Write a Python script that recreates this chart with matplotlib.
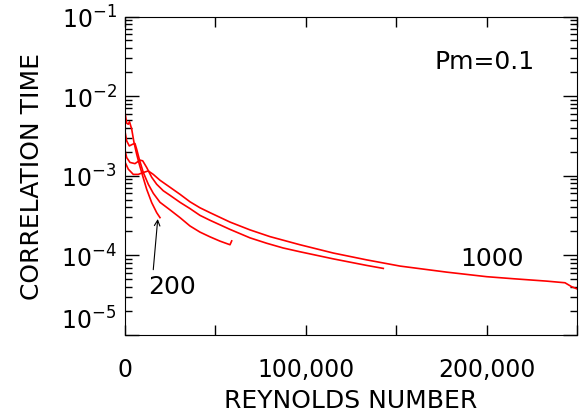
import matplotlib.pyplot as plt
from matplotlib.ticker import LogLocator, NullFormatter

# curve data (Reynolds number, correlation time)
re_200 = [110, 940, 1830, 2490, 3710, 4980, 6470, 7910, 9790, 12000, 14770, 17530, 19360]
tc_200 = [6.06e-3, 4.57e-3, 4.44e-3, 4.78e-3, 3.85e-3, 2.62e-3, 1.86e-3, 1.40e-3, 9.94e-4,
          6.76e-4, 4.60e-4, 3.44e-4, 2.98e-4]

re_400 = [110, 940, 2380, 4260, 5530, 6470, 7910, 10120, 12890, 15650, 19360, 24890, 30420,
          35950, 41480, 47010, 52540, 58080, 59020]
tc_400 = [3.49e-3, 2.74e-3, 2.37e-3, 2.49e-3, 2.54e-3, 2.15e-3, 1.61e-3, 1.10e-3, 7.82e-4,
          6.02e-4, 4.64e-4, 3.73e-4, 2.98e-4, 2.34e-4, 1.96e-4, 1.71e-4, 1.51e-4, 1.36e-4, 1.52e-4]

re_600 = [110, 940, 2770, 5530, 8300, 9790, 12000, 14770, 17530, 21180, 24890, 30420, 35950,
          41480, 47010, 58080, 69140, 78370, 87390, 96790, 115210, 133680, 142870]
tc_600 = [2.05e-3, 1.69e-3, 1.47e-3, 1.42e-3, 1.57e-3, 1.54e-3, 1.27e-3, 9.57e-4, 7.82e-4,
          6.48e-4, 5.68e-4, 4.64e-4, 3.87e-4, 3.18e-4, 2.76e-4, 2.12e-4, 1.66e-4, 1.42e-4,
          1.24e-4, 1.11e-4, 9.04e-5, 7.48e-5, 6.86e-5]

re_1000 = [110, 1830, 4590, 7360, 10120, 12890, 15650, 19360, 24890, 30420, 35950, 41480,
           47010, 58080, 69140, 80200, 96790, 115210, 133680, 152100, 177930, 200060, 214770,
           233240, 243360, 247060, 249830]
tc_1000 = [1.47e-3, 1.21e-3, 1.04e-3, 1.04e-3, 1.10e-3, 1.15e-3, 1.04e-3, 8.78e-4, 7.17e-4,
           5.85e-4, 4.71e-4, 3.96e-4, 3.44e-4, 2.62e-4, 2.09e-4, 1.72e-4, 1.36e-4, 1.07e-4,
           8.78e-5, 7.34e-5, 6.16e-5, 5.40e-5, 5.09e-5, 4.75e-5, 4.53e-5, 4.04e-5, 3.81e-5]

x_ticks = [0, 50000, 100000, 150000, 200000, 250000]
x_labels = ['0', '', '100,000', '', '200,000', '']
y_ticks = [1e-5, 1e-4, 1e-3, 1e-2, 1e-1]
y_labels = ['', '$10^{-4}$', '$10^{-3}$', '$10^{-2}$', '$10^{-1}$']

fig = plt.figure(figsize=(5.8, 4.14), dpi=100)
ax = fig.add_axes([0.2155, 0.1884, 0.7793, 0.7693])

for re, tc in [(re_200, tc_200), (re_400, tc_400), (re_600, tc_600), (re_1000, tc_1000)]:
  ax.plot(re, tc, color='red', lw=1.2)

ax.set_yscale('log')
ax.set_xlim(0, 250000)
ax.set_ylim(1e-5, 1e-1)

ax.set_xticks(x_ticks)
ax.set_xticklabels(x_labels, fontsize=17)
ax.set_yticks(y_ticks)
ax.set_yticklabels(y_labels, fontsize=17)
ax.yaxis.set_minor_locator(LogLocator(base=10, subs=range(2, 10), numticks=20))
ax.yaxis.set_minor_formatter(NullFormatter())
# the bottom label sits a bit above its tick in the original
ax.annotate('$10^{-5}$', xy=(0, 1e-5), xycoords=('axes fraction', 'data'),
            xytext=(-6, 11), textcoords='offset points', ha='right', va='center', fontsize=17)

ax.tick_params(which='both', direction='in', top=True, right=True, width=1)
ax.tick_params(axis='x', which='major', length=7, pad=16)
ax.tick_params(axis='y', which='major', length=10, pad=6)
ax.tick_params(axis='y', which='minor', length=5)

ax.set_xlabel('REYNOLDS NUMBER', fontsize=18, labelpad=5)
ax.set_ylabel('CORRELATION TIME', fontsize=18, labelpad=12)

ax.text(0.796, 0.86, 'Pm=0.1', transform=ax.transAxes, fontsize=18, ha='center', va='center')
ax.text(203000, 9.4e-5, '1000', fontsize=18, ha='center', va='center')
ax.text(26000, 4.07e-5, '200', fontsize=18, ha='center', va='center')
ax.annotate('', xy=(18250, 3.1e-4), xytext=(15500, 6.1e-5),
            arrowprops=dict(arrowstyle='->', color='black', lw=0.8))

plt.savefig('out.png')
